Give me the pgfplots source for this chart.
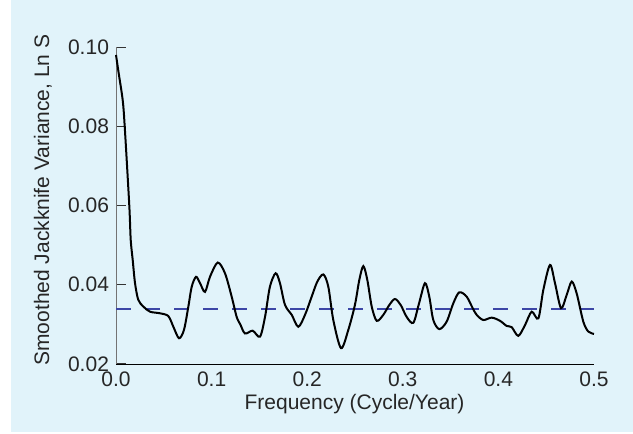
\documentclass[border=0pt]{standalone}
\usepackage{pgfplots}
\pgfplotsset{compat=1.18}
\usepackage{fontspec}
\setmainfont{Liberation Sans}
\definecolor{bgc}{HTML}{E1F3FA}
\definecolor{dashc}{HTML}{3C46A6}
\begin{document}
\begin{tikzpicture}
\useasboundingbox (0,0) rectangle (316.5pt,217pt);
\fill[bgc] (5.5pt,1pt) rectangle (316.5pt,217pt);
\begin{axis}[
    at={(58pt,35pt)}, anchor=south west,
    scale only axis,
    width=239pt, height=158.5pt,
    xmin=0, xmax=0.5,
    ymin=0.02, ymax=0.10,
    axis lines=left,
    axis line style={-},
    y axis line style={draw=black!55},
    x axis line style={draw=black},
    tick align=inside,
    xtick={0,0.1,0.2,0.3,0.4,0.5},
    minor xtick={0.05,0.1,0.15,0.2,0.25,0.3,0.35,0.4,0.45,0.5},
    xtick style={draw=none},
    ytick={0.02,0.04,0.06,0.08,0.10},
    major tick length=5pt,
    minor tick length=3.5pt,
    every tick/.style={black!80, line width=0.5pt},
    x tick label style={/pgf/number format/.cd, fixed, fixed zerofill, precision=1, /tikz/.cd, anchor=base, yshift=-11.5pt},
    y tick label style={/pgf/number format/.cd, fixed, fixed zerofill, precision=2},
    /pgf/number format/assume math mode=true,
    ticklabel style={font=\fontsize{10.5}{12.6}\selectfont, text=black!85},
    label style={font=\fontsize{10.5}{12.6}\selectfont, text=black!85},
    xlabel={Frequency (Cycle/Year)},
    ylabel={Smoothed Jackknife Variance, Ln S},
    xlabel style={at={(axis description cs:0.499,-0.145)}, anchor=base},
    ylabel style={at={(axis description cs:-0.153,0.517)}, anchor=center},
    clip=false,
  ]
  \addplot[dashc, line width=1pt, dash pattern=on 7.5pt off 7pt] coordinates {(0,0.0339) (0.5,0.0339)};
  \addplot[black, line width=1pt, smooth, tension=0.5] coordinates {
    (0.0000,0.0980) (0.0028,0.0934) (0.0070,0.0866) (0.0091,0.0800)
    (0.0139,0.0600) (0.0154,0.0513) (0.0175,0.0462) (0.0199,0.0404)
    (0.0233,0.0362) (0.0286,0.0345) (0.0356,0.0332) (0.0460,0.0328)
    (0.0547,0.0321) (0.0600,0.0294) (0.0659,0.0265) (0.0711,0.0286)
    (0.0757,0.0345) (0.0792,0.0395) (0.0837,0.0420) (0.0879,0.0404)
    (0.0931,0.0382) (0.0983,0.0420) (0.1064,0.0456) (0.1140,0.0429)
    (0.1210,0.0370) (0.1262,0.0319) (0.1300,0.0300) (0.1350,0.0277)
    (0.1430,0.0284) (0.1506,0.0269) (0.1559,0.0319) (0.1610,0.0395)
    (0.1670,0.0429) (0.1715,0.0404) (0.1768,0.0349) (0.1838,0.0324)
    (0.1907,0.0294) (0.1977,0.0324) (0.2047,0.0370) (0.2106,0.0408)
    (0.2169,0.0426) (0.2221,0.0395) (0.2273,0.0311) (0.2354,0.0240)
    (0.2430,0.0286) (0.2500,0.0350) (0.2545,0.0412) (0.2587,0.0447)
    (0.2629,0.0412) (0.2675,0.0345) (0.2727,0.0309) (0.2796,0.0324)
    (0.2859,0.0349) (0.2918,0.0364) (0.2978,0.0349) (0.3040,0.0319)
    (0.3110,0.0304) (0.3170,0.0353) (0.3232,0.0404) (0.3277,0.0370)
    (0.3319,0.0311) (0.3382,0.0288) (0.3459,0.0307) (0.3528,0.0353)
    (0.3591,0.0381) (0.3668,0.0370) (0.3731,0.0341) (0.3773,0.0324)
    (0.3842,0.0311) (0.3930,0.0317) (0.4017,0.0309) (0.4087,0.0296)
    (0.4139,0.0293) (0.4208,0.0271) (0.4278,0.0298) (0.4348,0.0332)
    (0.4418,0.0315) (0.4470,0.0387) (0.4540,0.0450) (0.4592,0.0404)
    (0.4655,0.0341) (0.4714,0.0374) (0.4767,0.0408) (0.4819,0.0378)
    (0.4888,0.0307) (0.4940,0.0282) (0.5000,0.0276)
  };
\end{axis}
\end{tikzpicture}
\end{document}
